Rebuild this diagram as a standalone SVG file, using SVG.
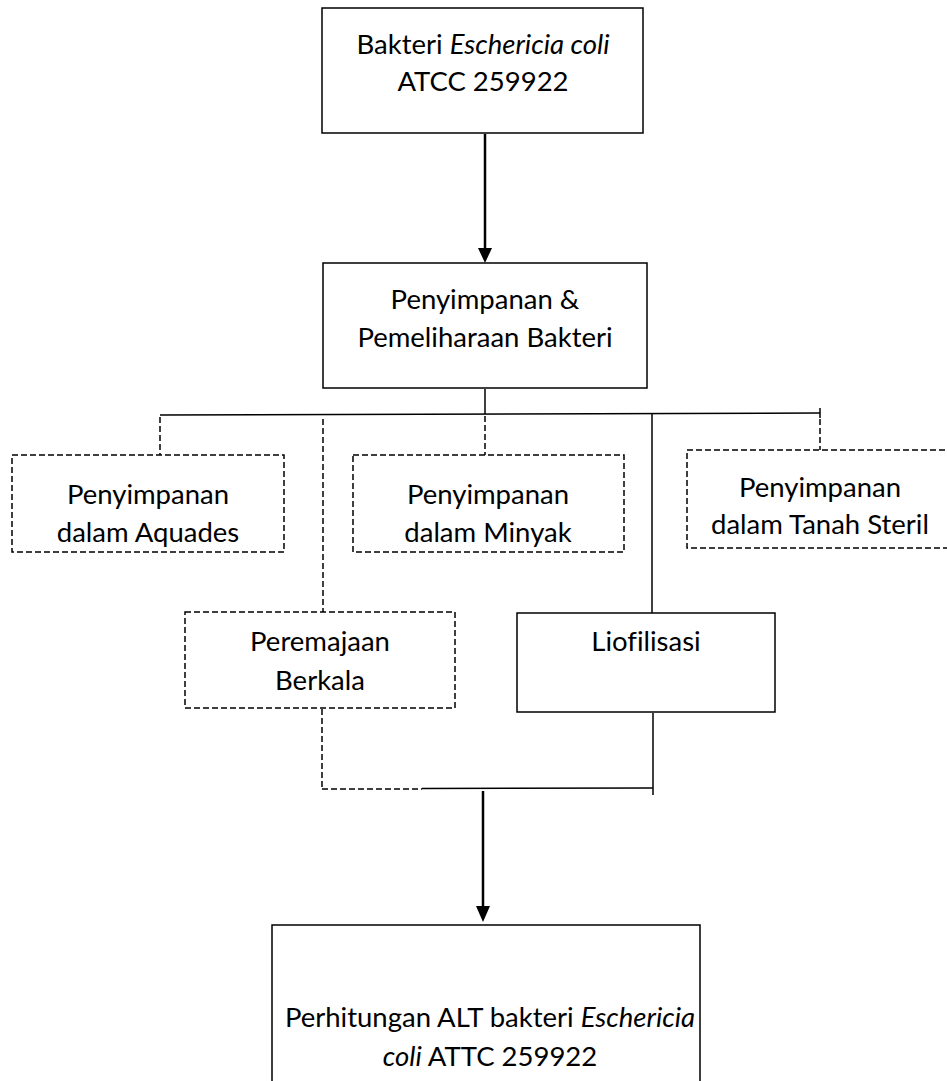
<svg xmlns="http://www.w3.org/2000/svg" width="947" height="1081" viewBox="0 0 947 1081">
<style>
.box{fill:#fff;stroke:#000;stroke-width:1.5}
.dbox{fill:#fff;stroke:#000;stroke-width:1.5;stroke-dasharray:6 3}
.ln{stroke:#000;stroke-width:1.5;fill:none}
.dl{stroke:#000;stroke-width:1.5;fill:none;stroke-dasharray:6 3}
.ar{stroke:#000;stroke-width:2.5;fill:none}
text{font-family:Lato,"Liberation Sans",sans-serif;font-size:27.5px;fill:#000;text-anchor:middle;font-variant-ligatures:none;font-feature-settings:"liga" 0}
.i{font-style:italic}
</style>
<g id="connectors">
<line class="ar" x1="485" y1="134" x2="485" y2="248"/>
<path d="M478,248 L492,248 L485,263 Z" fill="#000"/>
<line class="ln" x1="485" y1="389" x2="485" y2="414"/>
<line class="ln" x1="160" y1="415" x2="820" y2="413"/>
<line class="ln" x1="820" y1="408" x2="820" y2="418"/>
<line class="dl" x1="160" y1="417" x2="160" y2="455"/>
<line class="dl" x1="323" y1="419" x2="323" y2="612"/>
<line class="dl" x1="485" y1="416" x2="485" y2="455"/>
<line class="ln" x1="652" y1="414" x2="652" y2="613"/>
<line class="dl" x1="820" y1="419" x2="820" y2="450"/>
<line class="dl" x1="322" y1="709" x2="322" y2="789"/>
<line class="dl" x1="322" y1="789" x2="422" y2="789"/>
<line class="ln" x1="422" y1="788.5" x2="653" y2="788"/>
<line class="ln" x1="653" y1="713" x2="653" y2="795"/>
<line class="ar" x1="483" y1="791" x2="483" y2="907"/>
<path d="M476,906 L490,906 L483,922 Z" fill="#000"/>
</g>
<g id="n1">
<rect class="box" x="322" y="8" width="321" height="125"/>
<text x="483" y="54">Bakteri <tspan class="i">Eschericia coli</tspan></text>
<text x="483" y="91">ATCC 259922</text>
</g>
<g id="n2">
<rect class="box" x="323" y="263" width="324" height="125"/>
<text x="485" y="309">Penyimpanan &amp;</text>
<text x="485" y="347">Pemeliharaan Bakteri</text>
</g>
<g id="n3">
<rect class="dbox" x="12" y="455" width="272" height="97"/>
<text x="148" y="504">Penyimpanan</text>
<text x="148" y="542">dalam Aquades</text>
</g>
<g id="n4">
<rect class="dbox" x="353" y="455" width="271" height="97"/>
<text x="488" y="504">Penyimpanan</text>
<text x="488" y="542">dalam Minyak</text>
</g>
<g id="n5">
<rect class="dbox" x="687" y="450" width="280" height="98"/>
<text x="820" y="497">Penyimpanan</text>
<text x="820" y="534">dalam Tanah Steril</text>
</g>
<g id="n6">
<rect class="dbox" x="185" y="612" width="270" height="96"/>
<text x="320" y="651">Peremajaan</text>
<text x="320" y="690">Berkala</text>
</g>
<g id="n7">
<rect class="box" x="517" y="613" width="258" height="99"/>
<text x="646" y="651">Liofilisasi</text>
</g>
<g id="n8">
<path class="box" d="M272,1090 L272,925 L700,925 L700,1090"/>
<text x="490" y="1027">Perhitungan ALT bakteri <tspan class="i">Eschericia</tspan></text>
<text x="490" y="1066"><tspan class="i">coli</tspan> ATTC 259922</text>
</g>
</svg>
